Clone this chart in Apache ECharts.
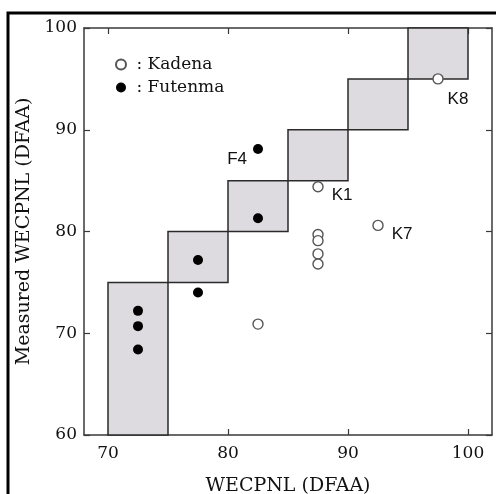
<!DOCTYPE html>
<html lang="en">

<head>
  <meta charset="UTF-8" />
  <title>WECPNL</title>
  <script src="https://cdn.jsdelivr.net/npm/echarts@6/dist/echarts.min.js"></script>
</head>

<body style="margin: 0; overflow: hidden; background: #fff;">
  <div id="panel" style="width: 496px; height: 494px;"></div>
  <script>
    // data
    var xTicks = [70, 80, 90, 100];
    var yTicks = [60, 70, 80, 90, 100];
    // shaded bands: [xFrom, xTo, yFrom, yTo]
    var bands = [
      [70, 75, 60, 75],
      [75, 80, 75, 80],
      [80, 85, 80, 85],
      [85, 90, 85, 90],
      [90, 95, 90, 95],
      [95, 100, 95, 100]
    ];
    var kadena = [
      [97.5, 95.0, 'K8'],
      [87.5, 84.4, 'K1'],
      [92.5, 80.6, 'K7'],
      [87.5, 79.7, ''],
      [87.5, 79.1, ''],
      [87.5, 77.8, ''],
      [87.5, 76.8, ''],
      [82.5, 70.9, '']
    ];
    var futenma = [
      [72.5, 72.2, ''],
      [72.5, 70.7, ''],
      [72.5, 68.4, ''],
      [77.5, 77.2, ''],
      [77.5, 74.0, ''],
      [82.5, 88.1, 'F4'],
      [82.5, 81.3, '']
    ];
    // where each point label sits relative to its marker
    var labelPos = {
      K8: { position: 'bottom', offset: [20, 1] },
      K1: { position: 'right', offset: [3, 9] },
      K7: { position: 'right', offset: [3, 9] },
      F4: { position: 'left', offset: [-1, 10] }
    };

    var serif = '"DejaVu Serif", "Liberation Serif", serif';
    var axisColor = '#3a3a3a';

    function withLabels(points) {
      return points.map(function (p) {
        var item = { value: [p[0], p[1]], name: p[2] };
        if (p[2]) {
          item.label = {
            show: true,
            formatter: p[2],
            position: labelPos[p[2]].position,
            offset: labelPos[p[2]].offset,
            fontFamily: '"Liberation Sans", Arial, sans-serif',
            fontSize: 17,
            color: '#111'
          };
        }
        return item;
      });
    }

    function innerAxis(extra) {
      return Object.assign({
        type: 'value',
        axisLine: { show: true, onZero: false, lineStyle: { color: axisColor, width: 1.5 } },
        splitLine: { show: false }
      }, extra);
    }

    function ticks(values) {
      return { show: true, inside: true, length: 6, customValues: values, lineStyle: { color: axisColor, width: 1.2 } };
    }

    var myChart = echarts.init(document.getElementById('panel'));

    var option = {
      animation: false,
      grid: { left: 84, top: 28, right: 4, bottom: 59, containLabel: false, outerBoundsMode: 'none' },
      legend: {
        orient: 'vertical',
        left: 110,
        top: 51,
        itemWidth: 10,
        itemHeight: 10,
        itemGap: 6,
        icon: 'circle',
        formatter: ' : {name}',
        textStyle: { fontFamily: serif, fontSize: 17, color: '#111' },
        data: ['Kadena', 'Futenma']
      },
      xAxis: [
        innerAxis({
          min: 68, max: 102,
          name: 'WECPNL (DFAA)',
          nameLocation: 'middle',
          nameGap: 42,
          nameTextStyle: { fontFamily: serif, fontSize: 19, color: '#111' },
          axisTick: ticks(xTicks),
          axisLabel: { customValues: xTicks, margin: 10, fontFamily: serif, fontSize: 17, color: '#111' }
        }),
        innerAxis({
          min: 68, max: 102, position: 'top',
          axisTick: ticks(xTicks),
          axisLabel: { show: false }
        })
      ],
      yAxis: [
        innerAxis({
          min: 60, max: 100,
          name: 'Measured WECPNL (DFAA)',
          nameLocation: 'middle',
          nameGap: 39,
          nameTextStyle: { fontFamily: serif, fontSize: 19, color: '#111' },
          axisTick: ticks(yTicks),
          axisLabel: { customValues: yTicks, margin: 7, fontFamily: serif, fontSize: 17, color: '#111' }
        }),
        innerAxis({
          min: 60, max: 100, position: 'right',
          axisTick: ticks(yTicks),
          axisLabel: { show: false }
        })
      ],
      graphic: [
        {
          type: 'polyline',
          shape: { points: [[8, 494], [8, 13], [496, 13]] },
          style: { stroke: '#000', lineWidth: 3, fill: null }
        }
      ],
      series: [
        {
          type: 'custom',
          name: 'bands',
          silent: true,
          z: 1,
          data: bands,
          renderItem: function (params, api) {
            var p0 = api.coord([api.value(0), api.value(3)]);
            var p1 = api.coord([api.value(1), api.value(2)]);
            return {
              type: 'rect',
              shape: { x: p0[0], y: p0[1], width: p1[0] - p0[0], height: p1[1] - p0[1] },
              style: { fill: '#dddbdf', stroke: '#2a2a2a', lineWidth: 1.5 }
            };
          }
        },
        {
          type: 'scatter',
          name: 'Kadena',
          z: 3,
          symbol: 'circle',
          symbolSize: 10,
          itemStyle: { color: '#fff', borderColor: '#555', borderWidth: 1.4, opacity: 1 },
          data: withLabels(kadena)
        },
        {
          type: 'scatter',
          name: 'Futenma',
          z: 3,
          symbol: 'circle',
          symbolSize: 10,
          itemStyle: { color: '#000', opacity: 1 },
          data: withLabels(futenma)
        }
      ]
    };

    myChart.setOption(option);

    window.addEventListener('resize', function () {
      myChart.resize();
    });
  </script>
</body>

</html>
